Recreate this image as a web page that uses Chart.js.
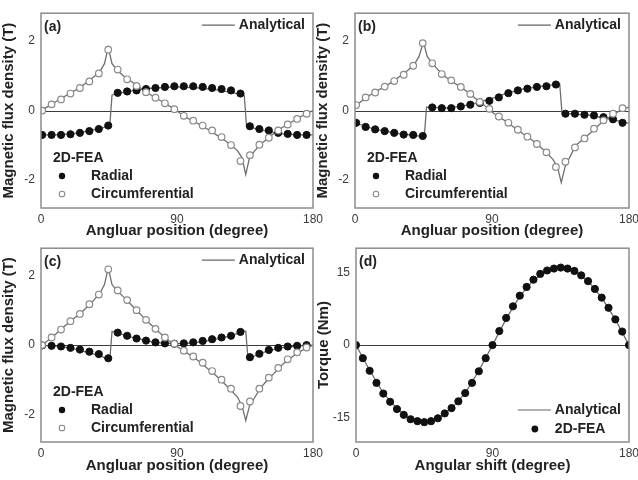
<!DOCTYPE html>
<html>
<head>
<meta charset="utf-8">
<script src="https://cdn.jsdelivr.net/npm/chart.js@4.4.1/dist/chart.umd.min.js"></script>
<style>
  body { margin: 0; background: #fff; width: 638px; height: 480px; overflow: hidden; position: relative; }
  canvas { position: absolute; }
</style>
</head>
<body>
<canvas id="chartA" width="330" height="240" style="left:0;top:0"></canvas>
<canvas id="chartB" width="334" height="240" style="left:314px;top:0"></canvas>
<canvas id="chartC" width="330" height="240" style="left:0;top:235px"></canvas>
<canvas id="chartD" width="333" height="240" style="left:315px;top:235px"></canvas>
<script>
// ---- data ----
// FEA sample positions (degree), shared by panels a-c
const feaAngle = [0.75, 7, 13.25, 19.5, 25.75, 32, 38.25, 44.5, 50.75, 57, 63.25, 69.5, 75.75, 82, 88.25,
  94.5, 100.75, 107, 113.25, 119.5, 125.75, 132, 138.25, 144.5, 150.75, 157, 163.25, 169.5, 175.75];

// (a)
const radialFeaA = [-0.70, -0.70, -0.70, -0.68, -0.64, -0.59, -0.53, -0.43, 0.51, 0.55, 0.58, 0.62, 0.65, 0.68, 0.70,
  0.70, 0.70, 0.68, 0.65, 0.62, 0.58, 0.49, -0.45, -0.53, -0.57, -0.64, -0.67, -0.70, -0.70];
const circFeaA = [0.00, 0.18, 0.32, 0.49, 0.65, 0.84, 1.07, 1.75, 1.18, 0.90, 0.71, 0.53, 0.37, 0.21, 0.04,
  -0.15, -0.29, -0.43, -0.57, -0.76, -0.99, -1.45, -1.28, -0.98, -0.78, -0.57, -0.40, -0.24, -0.09];
const radialAnaAngleA = [0, 10, 20, 30, 40, 45.5, 47, 55, 65, 75, 90, 105, 115, 125, 133, 134.5, 136, 140, 150, 160, 170, 180];
const radialAnaA = [-0.70, -0.70, -0.67, -0.60, -0.50, -0.44, 0.45, 0.53, 0.60, 0.65, 0.68, 0.65, 0.60, 0.53, 0.46, 0.44,
  -0.45, -0.50, -0.60, -0.67, -0.70, -0.70];
const circAnaAngleA = [0, 5, 10, 15, 20, 25, 30, 35, 39, 42, 44.5, 47, 50, 55, 60, 65, 70, 75, 80, 85, 90,
  95, 100, 105, 110, 115, 120, 125, 130, 133, 135.5, 138, 141, 145, 150, 155, 160, 165, 170, 175, 180];
const circAnaA = [0.00, 0.13, 0.26, 0.39, 0.52, 0.64, 0.80, 0.97, 1.12, 1.35, 1.82, 1.35, 1.18, 0.98, 0.83, 0.68, 0.52, 0.39, 0.26, 0.13, -0.01,
  -0.17, -0.29, -0.40, -0.53, -0.67, -0.80, -0.97, -1.15, -1.35, -1.84, -1.35, -1.18, -0.98, -0.80, -0.62, -0.48, -0.35, -0.22, -0.10, 0.00];

// (b)
const radialFeaB = [-0.35, -0.47, -0.54, -0.59, -0.64, -0.69, -0.70, -0.73, 0.09, 0.07, 0.07, 0.12, 0.17, 0.22, 0.28,
  0.38, 0.50, 0.58, 0.63, 0.68, 0.70, 0.75, -0.09, -0.09, -0.12, -0.14, -0.19, -0.25, -0.35];
const circFeaB = [0.16, 0.38, 0.52, 0.69, 0.85, 1.03, 1.29, 1.94, 1.36, 1.05, 0.87, 0.68, 0.48, 0.25, 0.05,
  -0.17, -0.35, -0.55, -0.75, -0.96, -1.20, -1.62, -1.47, -1.06, -0.80, -0.52, -0.28, -0.09, 0.07];
const radialAnaAngleB = [0, 10, 20, 30, 40, 45.5, 47, 52, 60, 70, 80, 90, 100, 110, 120, 130, 134.5, 136, 145, 155, 165, 175, 180];
const radialAnaB = [-0.35, -0.50, -0.60, -0.67, -0.72, -0.75, 0.10, 0.09, 0.08, 0.12, 0.22, 0.35, 0.50, 0.62, 0.69, 0.74, 0.76,
  -0.08, -0.10, -0.14, -0.22, -0.32, -0.37];
const circAnaAngleB = [0, 5, 10, 15, 20, 25, 30, 35, 39, 42, 45, 47.5, 50, 55, 60, 65, 70, 75, 80, 85, 90,
  95, 100, 105, 110, 115, 120, 125, 130, 133, 135.5, 138, 141, 145, 150, 155, 160, 165, 170, 175, 180];
const circAnaB = [0.12, 0.30, 0.45, 0.58, 0.70, 0.84, 1.00, 1.17, 1.33, 1.55, 1.97, 1.55, 1.40, 1.15, 0.95, 0.80, 0.66, 0.50, 0.32, 0.15, -0.04,
  -0.19, -0.33, -0.50, -0.66, -0.80, -0.98, -1.17, -1.40, -1.62, -2.07, -1.62, -1.35, -1.00, -0.82, -0.63, -0.42, -0.25, -0.10, 0.02, 0.10];

// (c)
const radialFeaC = [-0.01, -0.02, -0.04, -0.08, -0.13, -0.19, -0.26, -0.38, 0.36, 0.27, 0.19, 0.13, 0.08, 0.05, 0.04,
  0.05, 0.08, 0.12, 0.17, 0.22, 0.27, 0.38, -0.35, -0.25, -0.14, -0.08, -0.04, -0.02, 0.00];
const circFeaC = [0.00, 0.22, 0.45, 0.69, 0.90, 1.18, 1.46, 2.19, 1.58, 1.30, 1.01, 0.73, 0.47, 0.22, 0.04,
  -0.16, -0.33, -0.51, -0.75, -1.00, -1.26, -1.76, -1.63, -1.26, -0.94, -0.66, -0.41, -0.21, -0.07];
const radialAnaAngleC = [0, 10, 20, 30, 40, 45.5, 47, 52, 60, 70, 80, 90, 100, 110, 120, 128, 134, 135.5, 137, 142, 150, 160, 170, 180];
const radialAnaC = [-0.01, -0.03, -0.09, -0.20, -0.32, -0.45, 0.40, 0.33, 0.23, 0.12, 0.06, 0.04, 0.06, 0.12, 0.21, 0.30, 0.40, 0.40,
  -0.40, -0.30, -0.17, -0.07, -0.03, 0.00];
const circAnaAngleC = [0, 5, 10, 15, 20, 25, 30, 35, 39, 42, 44.5, 47, 50, 55, 60, 65, 70, 75, 80, 85, 90,
  95, 100, 105, 110, 115, 120, 125, 130, 133, 135.5, 138, 141, 145, 150, 155, 160, 165, 170, 175, 180];
const circAnaC = [-0.02, 0.15, 0.33, 0.52, 0.71, 0.88, 1.08, 1.30, 1.50, 1.75, 2.23, 1.75, 1.58, 1.38, 1.15, 0.93, 0.70, 0.50, 0.30, 0.12, -0.04,
  -0.18, -0.32, -0.48, -0.67, -0.85, -1.05, -1.27, -1.50, -1.75, -2.18, -1.75, -1.55, -1.25, -1.00, -0.78, -0.55, -0.38, -0.22, -0.10, 0.00];

// (d) torque
const shiftFea = [0, 4.5, 9, 13.5, 18, 22.5, 27, 31.5, 36, 40.5, 45, 49.5, 54, 58.5, 63, 67.5, 72, 76.5, 81, 85.5, 90,
  94.5, 99, 103.5, 108, 112.5, 117, 121.5, 126, 130.5, 135, 139.5, 144, 148.5, 153, 157.5, 162, 166.5, 171, 175.5, 180];
const torqueFea = [0, -2.7, -5.3, -7.8, -10.0, -11.7, -13.2, -14.4, -15.3, -15.7, -15.9, -15.7, -15.1, -14.1, -13.0, -11.6, -9.9, -7.8, -5.4, -2.7, 0,
  2.9, 5.6, 8.0, 10.2, 12.0, 13.5, 14.7, 15.4, 15.8, 16.0, 15.8, 15.3, 14.4, 13.2, 11.6, 9.8, 7.7, 5.3, 2.8, 0];
const shiftAna = [0, 9, 18, 27, 36, 45, 54, 63, 72, 81, 90, 99, 108, 117, 126, 135, 144, 153, 162, 171, 180];
const torqueAna = [0, -5.2, -9.9, -13.1, -15.3, -15.9, -15.2, -13.0, -9.9, -5.3, 0, 5.4, 10.1, 13.4, 15.3, 16.0, 15.3, 13.2, 9.8, 5.3, 0];

const xTicks = [0, 90, 180];
const fluxTicks = [-2, 0, 2];
const torqueTicks = [-15, 0, 15];

// ---- helpers ----
const FONT = 'Liberation Sans, Arial, sans-serif';
const toXY = (xs, ys) => xs.map((x, i) => ({ x: x, y: ys[i] }));

const decoPlugin = {
  id: 'deco',
  beforeDatasetsDraw(chart) {
    const { ctx, chartArea: ca, scales } = chart;
    const y0 = Math.round(scales.y.getPixelForValue(0)) + 0.5;
    ctx.save();
    ctx.strokeStyle = '#3c3c3c';
    ctx.lineWidth = 1;
    ctx.beginPath();
    ctx.moveTo(ca.left, y0);
    ctx.lineTo(ca.right, y0);
    ctx.stroke();
    ctx.restore();
  },
  afterDraw(chart, args, opts) {
    const { ctx, chartArea: ca } = chart;
    ctx.save();
    // frame
    ctx.strokeStyle = '#8c8c8c';
    ctx.lineWidth = 1.5;
    ctx.strokeRect(ca.left, ca.top, ca.right - ca.left, ca.bottom - ca.top);

    ctx.font = 'bold 14px ' + FONT;
    ctx.fillStyle = '#222';
    ctx.textBaseline = 'middle';
    ctx.textAlign = 'left';
    ctx.fillText(opts.letter, ca.left + 3, ca.top + 14);

    const anaText = 'Analytical';
    const tw = ctx.measureText(anaText).width;
    const textX = ca.right - 8 - tw;

    if (opts.kind === 'flux') {
      const ly = ca.top + 12;
      ctx.strokeStyle = '#666';
      ctx.lineWidth = 1.2;
      ctx.beginPath();
      ctx.moveTo(textX - 37, ly);
      ctx.lineTo(textX - 4, ly);
      ctx.stroke();
      ctx.fillText(anaText, textX, ly);

      ctx.fillText('2D-FEA', ca.left + 12, ca.bottom - 50);
      ctx.fillText('Radial', ca.left + 50, ca.bottom - 32);
      ctx.fillText('Circumferential', ca.left + 50, ca.bottom - 14);
      ctx.beginPath();
      ctx.arc(ca.left + 21, ca.bottom - 32, 3.2, 0, Math.PI * 2);
      ctx.fillStyle = '#111';
      ctx.fill();
      ctx.beginPath();
      ctx.arc(ca.left + 21, ca.bottom - 14, 2.8, 0, Math.PI * 2);
      ctx.fillStyle = '#fff';
      ctx.fill();
      ctx.strokeStyle = '#888';
      ctx.lineWidth = 1.1;
      ctx.stroke();
    } else {
      const ly = ca.bottom - 32;
      ctx.strokeStyle = '#666';
      ctx.lineWidth = 1.2;
      ctx.beginPath();
      ctx.moveTo(textX - 37, ly);
      ctx.lineTo(textX - 4, ly);
      ctx.stroke();
      ctx.fillText(anaText, textX, ly);
      ctx.fillText('2D-FEA', textX, ca.bottom - 13);
      ctx.beginPath();
      ctx.arc(textX - 20, ca.bottom - 13, 3.4, 0, Math.PI * 2);
      ctx.fillStyle = '#111';
      ctx.fill();
    }
    ctx.restore();
  }
};

function lineSet(data) {
  return { type: 'line', data: data, borderColor: '#6e6e6e', borderWidth: 1.3, pointRadius: 0, tension: 0, fill: false, order: 2 };
}
function dotSet(data, hollow) {
  return {
    type: 'scatter', data: data, showLine: false, order: hollow ? 0 : 1,
    pointRadius: hollow ? 3.3 : 3.6, pointHoverRadius: 0,
    pointBackgroundColor: hollow ? '#fff' : '#111',
    pointBorderColor: hollow ? '#8a8a8a' : '#111',
    pointBorderWidth: hollow ? 1.2 : 1
  };
}

function makeChart(id, opts) {
  const fixTicks = list => scale => { scale.ticks = list.map(v => ({ value: v })); };
  return new Chart(document.getElementById(id), {
    type: 'scatter',
    data: { datasets: opts.datasets },
    options: {
      responsive: false,
      animation: false,
      events: [],
      layout: { padding: { left: 0, top: 8, right: opts.padRight, bottom: 0 } },
      plugins: { legend: { display: false }, tooltip: { enabled: false }, deco: { letter: opts.letter, kind: opts.kind } },
      scales: {
        x: {
          type: 'linear', min: 0, max: 180,
          afterBuildTicks: fixTicks(xTicks),
          afterFit: s => { s.height = opts.xHeight; },
          grid: { display: false, drawTicks: false },
          border: { display: false },
          ticks: { padding: 4, color: '#3a3a3a', font: { family: FONT, size: 12 } },
          title: { display: true, text: opts.xTitle, color: '#222', padding: { top: 0, bottom: 0 }, font: { family: FONT, size: 15, weight: 'bold' } }
        },
        y: {
          type: 'linear', min: opts.yMin, max: opts.yMax,
          afterBuildTicks: fixTicks(opts.yTicks),
          afterFit: s => { s.width = 41; },
          grid: { display: false, drawTicks: false },
          border: { display: false },
          ticks: { padding: 6, color: '#3a3a3a', font: { family: FONT, size: 12 } },
          title: { display: true, text: opts.yTitle, color: '#222', padding: { top: 0, bottom: 0 }, font: { family: FONT, size: 15, weight: 'bold' } }
        }
      }
    },
    plugins: [decoPlugin]
  });
}

const fluxTitle = 'Magnetic flux density (T)';
const posTitle = 'Angluar position (degree)';

makeChart('chartA', {
  letter: '(a)', kind: 'flux', padRight: 17, xHeight: 32, yMin: -2.8, yMax: 2.8, yTicks: fluxTicks,
  xTitle: posTitle, yTitle: fluxTitle,
  datasets: [
    lineSet(toXY(radialAnaAngleA, radialAnaA)), lineSet(toXY(circAnaAngleA, circAnaA)),
    dotSet(toXY(feaAngle, radialFeaA), false), dotSet(toXY(feaAngle, circFeaA), true)
  ]
});
makeChart('chartB', {
  letter: '(b)', kind: 'flux', padRight: 19, xHeight: 32, yMin: -2.8, yMax: 2.8, yTicks: fluxTicks,
  xTitle: posTitle, yTitle: fluxTitle,
  datasets: [
    lineSet(toXY(radialAnaAngleB, radialAnaB)), lineSet(toXY(circAnaAngleB, circAnaB)),
    dotSet(toXY(feaAngle, radialFeaB), false), dotSet(toXY(feaAngle, circFeaB), true)
  ]
});
makeChart('chartC', {
  letter: '(c)', kind: 'flux', padRight: 17, xHeight: 33, yMin: -2.8, yMax: 2.8, yTicks: fluxTicks,
  xTitle: posTitle, yTitle: fluxTitle,
  datasets: [
    lineSet(toXY(radialAnaAngleC, radialAnaC)), lineSet(toXY(circAnaAngleC, circAnaC)),
    dotSet(toXY(feaAngle, radialFeaC), false), dotSet(toXY(feaAngle, circFeaC), true)
  ]
});
makeChart('chartD', {
  letter: '(d)', kind: 'torque', padRight: 19, xHeight: 33, yMin: -20, yMax: 20, yTicks: torqueTicks,
  xTitle: 'Angular shift (degree)', yTitle: 'Torque (Nm)',
  datasets: [
    lineSet(toXY(shiftAna, torqueAna)),
    dotSet(toXY(shiftFea, torqueFea), false)
  ]
});
</script>
</body>
</html>
